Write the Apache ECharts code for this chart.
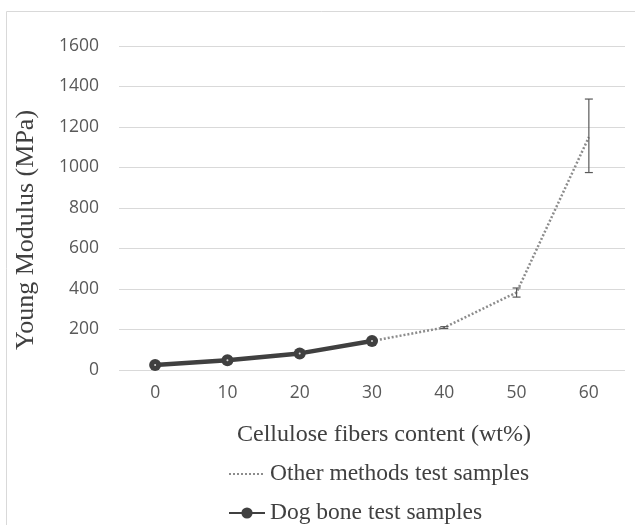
<!DOCTYPE html>
<html>
<head>
<meta charset="utf-8">
<script src="https://cdn.jsdelivr.net/npm/echarts@6/dist/echarts.min.js"></script>
<style>
  html, body { margin: 0; padding: 0; background: #fff; }
  #chart { width: 635px; height: 525px; }
</style>
</head>
<body>
<div id="chart"></div>
<script>
// 纤维含量 (wt%)
const fiberContent = ['0', '10', '20', '30', '40', '50', '60'];
// 哑铃试样
const dogBone = [25, 48, 82, 143, null, null, null];
// 其他方法试样
const otherMethods = [null, null, null, 143, 210, 383, 1150];
// 误差棒 (下限 / 上限)
const errLow = [null, null, null, null, 205, 360, 975];
const errHigh = [null, null, null, null, 214, 405, 1338];

const errData = fiberContent.map((c, i) => [i, errLow[i], errHigh[i]]).filter(d => d[1] != null);

const chart = echarts.init(document.getElementById('chart'));

const titleFont = { fontFamily: 'Liberation Serif', fontSize: 26, fill: '#404040' };

const option = {
  animation: false,
  graphic: [
    {
      type: 'rect',
      shape: { x: 6.5, y: 11.5, width: 640, height: 530 },
      style: { fill: 'none', stroke: '#d9d9d9', lineWidth: 1 },
      silent: true
    },
    {
      // 纵轴标题
      type: 'text',
      x: 26, y: 230,
      rotation: Math.PI / 2,
      style: Object.assign({ text: 'Young Modulus (MPa)', align: 'center', verticalAlign: 'middle' }, titleFont)
    },
    {
      // 横轴标题
      type: 'text',
      x: 384, y: 435,
      style: Object.assign({ text: 'Cellulose fibers content (wt%)', align: 'center', verticalAlign: 'middle' }, titleFont, { fontSize: 24 })
    }
  ],
  grid: { left: 119, right: 10, top: 46, bottom: 155 },
  legend: {
    orient: 'vertical',
    left: 228,
    top: 462,
    padding: 0,
    itemGap: 15,
    itemWidth: 36,
    itemHeight: 14,
    textStyle: { fontFamily: 'Liberation Serif', fontSize: 23.5, color: '#404040' },
    data: [
      { name: 'Other methods test samples', itemStyle: { opacity: 0 } },
      { name: 'Dog bone test samples' }
    ]
  },
  xAxis: {
    type: 'category',
    data: fiberContent,
    axisLine: { show: false },
    axisTick: { show: false },
    axisLabel: { fontFamily: 'Open Sans', fontSize: 17.5, color: '#595959', margin: 14 }
  },
  yAxis: {
    type: 'value',
    min: 0,
    max: 1600,
    interval: 200,
    axisLabel: {
      fontFamily: 'Open Sans', fontSize: 17.5, color: '#595959', margin: 20,
      formatter: v => String(v)
    },
    splitLine: { lineStyle: { color: '#d9d9d9', width: 1 } }
  },
  series: [
    {
      name: 'Other methods test samples',
      type: 'line',
      data: otherMethods,
      symbol: 'none',
      color: '#8c8c8c',
      lineStyle: { color: '#8c8c8c', width: 2.5, type: [2, 2] },
      z: 2
    },
    {
      name: 'Dog bone test samples',
      type: 'line',
      data: dogBone,
      symbol: 'circle',
      symbolSize: 12,
      color: '#404040',
      itemStyle: { color: '#404040' },
      lineStyle: { color: '#404040', width: 4.5 },
      z: 3
    },
    {
      // 标记中心的白点
      name: 'dots',
      type: 'scatter',
      data: dogBone,
      symbol: 'circle',
      symbolSize: 2,
      itemStyle: { color: '#ffffff' },
      z: 5
    },
    {
      name: 'error',
      type: 'custom',
      data: errData,
      renderItem: function (params, api) {
        const lo = api.coord([api.value(0), api.value(1)]);
        const hi = api.coord([api.value(0), api.value(2)]);
        const w = 4;
        const st = { stroke: '#595959', lineWidth: 1.2 };
        return {
          type: 'group',
          children: [
            { type: 'line', shape: { x1: lo[0], y1: lo[1], x2: hi[0], y2: hi[1] }, style: st },
            { type: 'line', shape: { x1: lo[0] - w, y1: lo[1], x2: lo[0] + w, y2: lo[1] }, style: st },
            { type: 'line', shape: { x1: hi[0] - w, y1: hi[1], x2: hi[0] + w, y2: hi[1] }, style: st }
          ]
        };
      },
      z: 4
    }
  ]
};

chart.setOption(option);
</script>
</body>
</html>
